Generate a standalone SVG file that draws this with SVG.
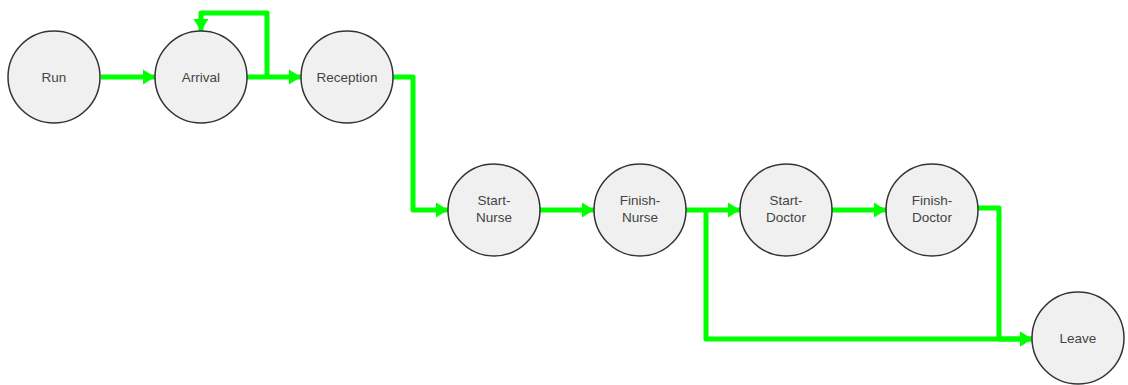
<svg xmlns="http://www.w3.org/2000/svg" width="1128" height="385" viewBox="0 0 1128 385">
  <style>
    .node circle { fill: #f0f0f0; stroke: #333333; stroke-width: 1.5; }
    .node text { font-family: "Liberation Sans", Arial, sans-serif; font-size: 13.5px; fill: #444444; text-anchor: middle; }
    .edge { fill: none; stroke: #00ff00; stroke-width: 5; stroke-linejoin: round; }
  </style>
  <defs>
    <marker id="arrow" markerUnits="userSpaceOnUse" markerWidth="16" markerHeight="16" viewBox="0 0 16 16" refX="12" refY="8" orient="auto">
      <path d="M0,0.5 L12,8 L0,15.5 Z" fill="#00ff00"/>
    </marker>
  </defs>
  <rect width="1128" height="385" fill="#ffffff"/>

  <g id="connectors">
    <path class="edge" d="M101,77 H155" marker-end="url(#arrow)"/>
    <path class="edge" d="M247,77 H301" marker-end="url(#arrow)"/>
    <path class="edge" d="M267,77 V13 H201 V31" marker-end="url(#arrow)"/>
    <path class="edge" d="M393,77 H413 V210 H448" marker-end="url(#arrow)"/>
    <path class="edge" d="M540,210 H594" marker-end="url(#arrow)"/>
    <path class="edge" d="M686,210 H740" marker-end="url(#arrow)"/>
    <path class="edge" d="M706,210 V339 H1032" marker-end="url(#arrow)"/>
    <path class="edge" d="M832,210 H886" marker-end="url(#arrow)"/>
    <path class="edge" d="M978,208 H999 V339 H1032" marker-end="url(#arrow)"/>
  </g>

  <g id="run" class="node">
    <circle cx="54" cy="77" r="46"/>
    <text x="54" y="82">Run</text>
  </g>
  <g id="arrival" class="node">
    <circle cx="201" cy="77" r="46"/>
    <text x="201" y="82">Arrival</text>
  </g>
  <g id="reception" class="node">
    <circle cx="347" cy="77" r="46"/>
    <text x="347" y="82">Reception</text>
  </g>
  <g id="start-nurse" class="node">
    <circle cx="494" cy="210" r="46"/>
    <text x="494" y="205">Start-</text>
    <text x="494" y="222">Nurse</text>
  </g>
  <g id="finish-nurse" class="node">
    <circle cx="640" cy="210" r="46"/>
    <text x="640" y="205">Finish-</text>
    <text x="640" y="222">Nurse</text>
  </g>
  <g id="start-doctor" class="node">
    <circle cx="786" cy="210" r="46"/>
    <text x="786" y="205">Start-</text>
    <text x="786" y="222">Doctor</text>
  </g>
  <g id="finish-doctor" class="node">
    <circle cx="932" cy="210" r="46"/>
    <text x="932" y="205">Finish-</text>
    <text x="932" y="222">Doctor</text>
  </g>
  <g id="leave" class="node">
    <circle cx="1078" cy="338" r="46"/>
    <text x="1078" y="343">Leave</text>
  </g>
</svg>
